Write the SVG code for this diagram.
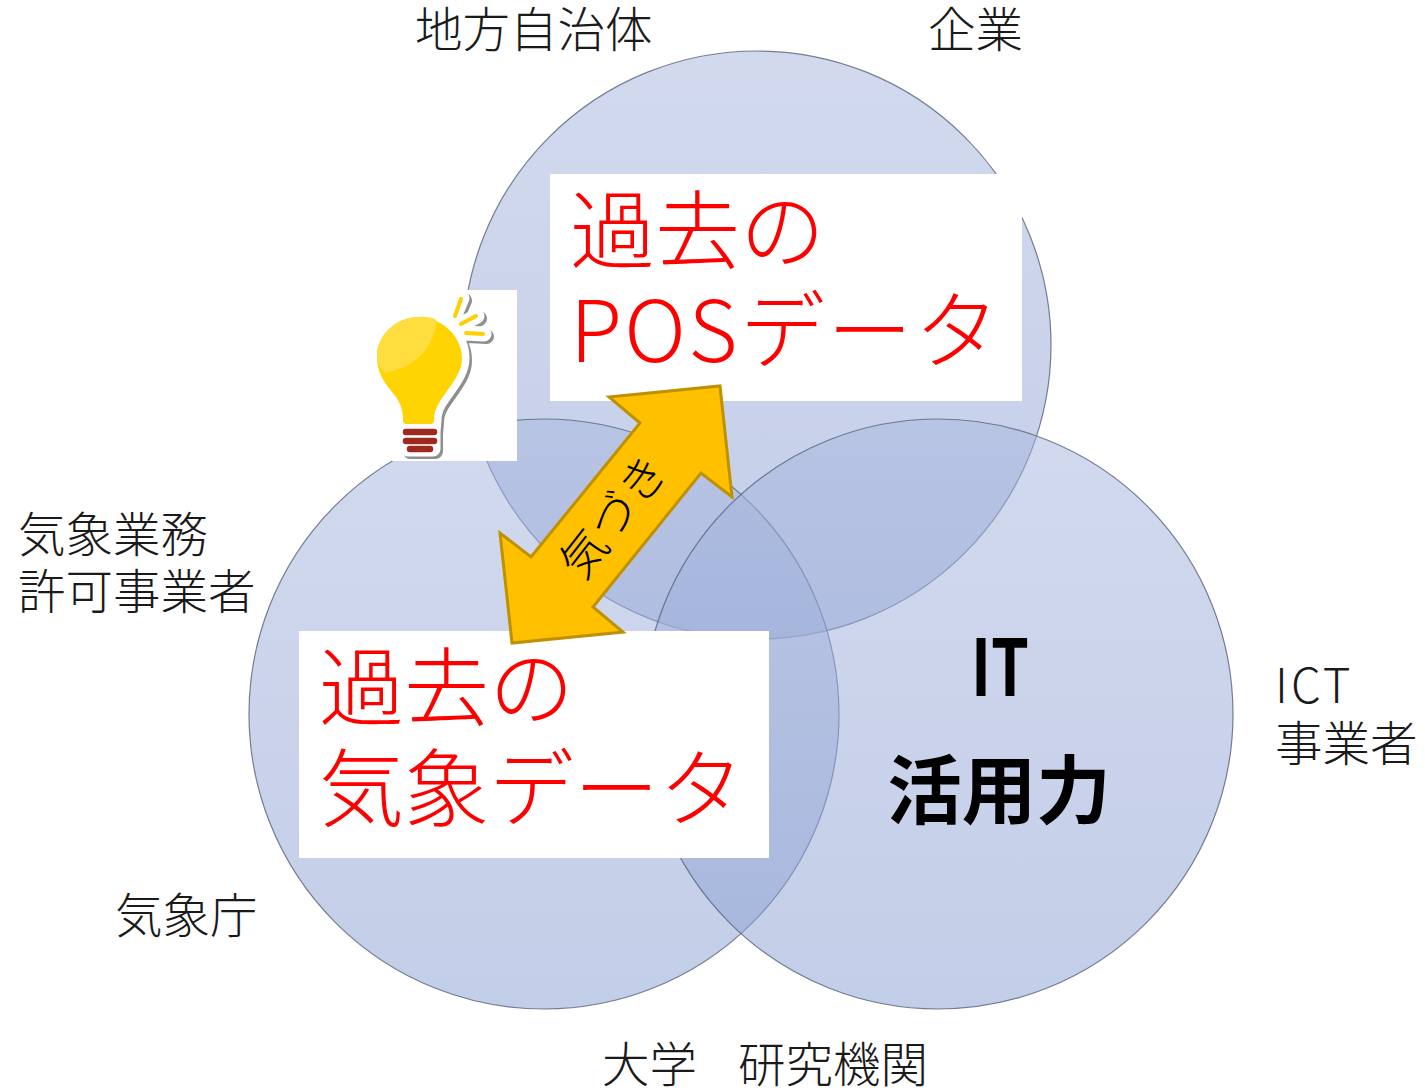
<svg xmlns="http://www.w3.org/2000/svg" width="1425" height="1088" viewBox="0 0 1425 1088">
<style>
.c{stroke:#56617c;stroke-opacity:.8;stroke-width:1.2}
text{font-family:"Noto Sans CJK JP","Noto Sans",sans-serif}
.l{font-size:47.5px;font-weight:300;fill:#1a1a1a}
.r{font-size:85px;font-weight:300;fill:#ff0000}
.b{font-size:74.5px;font-weight:700;fill:#000}
.w{fill:#fff}
.halo{stroke-width:15;stroke-linecap:round;stroke-linejoin:round}
</style>
<defs>
<linearGradient id="g" x1="0" y1="0" x2="0" y2="1"><stop offset="0" stop-color="#a9b7de"/><stop offset="1" stop-color="#8ba0d2"/></linearGradient>
<path id="sil" d="M454 317L462 298M460 325L477 316M465 333L484 334M419 317C440 317 462 335 462 358C462 375 448 388 439 403C436 408 434 413 434 420L433 432V449H408L404 432V420C403 408 399 400 392 392C384 382 377 372 377 357C377 335 396 317 419 317Z"/>
</defs>
<rect width="1425" height="1088" fill="#fff"/>
<g id="circles">
<circle id="circle-top" class="c" cx="757" cy="345" r="294" fill="url(#g)" fill-opacity=".52"/>
<circle id="circle-left" class="c" cx="544" cy="714" r="295" fill="url(#g)" fill-opacity=".52"/>
<circle id="circle-right" class="c" cx="938" cy="714" r="295" fill="url(#g)" fill-opacity=".52"/>
</g>
<g id="label-local"><text class="l" x="415" y="47">地方自治体</text></g>
<g id="label-company"><text class="l" x="928" y="47">企業</text></g>
<g id="label-weather-biz"><text class="l" x="18" y="552">気象業務</text><text class="l" x="18" y="609">許可事業者</text></g>
<g id="label-jma"><text class="l" x="115" y="933">気象庁</text></g>
<g id="label-ict"><text class="l" x="1275" y="703" letter-spacing="3">ICT</text><text class="l" x="1275" y="761">事業者</text></g>
<g id="label-univ"><text class="l" y="1082" xml:space="preserve"><tspan x="602">大学</tspan>　<tspan x="738">研究機関</tspan></text></g>
<g id="box-pos"><rect class="w" x="550" y="174" width="472" height="227"/><text class="r" x="570" y="262">過去の</text><text class="r" x="570" y="362" letter-spacing="2.3">POSデータ</text></g>
<g id="box-weather"><rect class="w" x="299" y="631" width="470" height="227"/><text class="r" x="319" y="719">過去の</text><text class="r" x="319" y="820">気象データ</text></g>
<g id="label-it"><text class="b" x="971" y="696" style="font-size:78px" textLength="58" lengthAdjust="spacingAndGlyphs">IT</text><text class="b" x="999" y="818" text-anchor="middle">活用力</text></g>
<g id="bulb">
<rect class="w" x="392" y="290" width="125" height="171"/>
<rect class="w" x="366" y="306" width="30" height="110"/>
<use href="#sil" transform="translate(2.5,2.5)" class="halo" fill="#8f8f8f" stroke="#8f8f8f"/>
<use href="#sil" class="halo" fill="#fff" stroke="#fff"/>
<path d="M419 317C440 317 462 335 462 358C462 375 448 388 439 403C436 408 434 413 434 420C434 423 433 424 430 424H407C404 424 403 423 403 420C403 408 399 400 392 392C384 382 377 372 377 357C377 335 396 317 419 317Z" fill="#ffd400"/>
<path d="M418 317C428 316 436 319 436 320C436 345 416 368 385 373C380 367 377 364 377 355C377 335 396 318 418 317Z" fill="#ffdd3f"/>
<g stroke="#ffcf00" stroke-width="4" stroke-linecap="round" fill="none">
<path d="M455 316L461 299"/><path d="M461 324L476 316"/><path d="M466 333L483 334"/>
</g>
<g stroke="#9e2a1f" stroke-width="6.5" stroke-linecap="round">
<path d="M406 432H434"/><path d="M406 441H434"/><path d="M410 449H430"/>
</g>
</g>
<g id="connectors">
<polygon id="arrow" points="609,397 720,386 732,497 701,473 593,607 623,632 512,643 500,533 531,557 640,423" fill="#ffc000" stroke="#bf9000" stroke-width="3"/>
</g>
<g id="arrow-label"><text transform="translate(583,582) rotate(-52)" fill="#000" font-weight="300" letter-spacing="1.5" style="font-size:46px">気づき</text></g>
</svg>
